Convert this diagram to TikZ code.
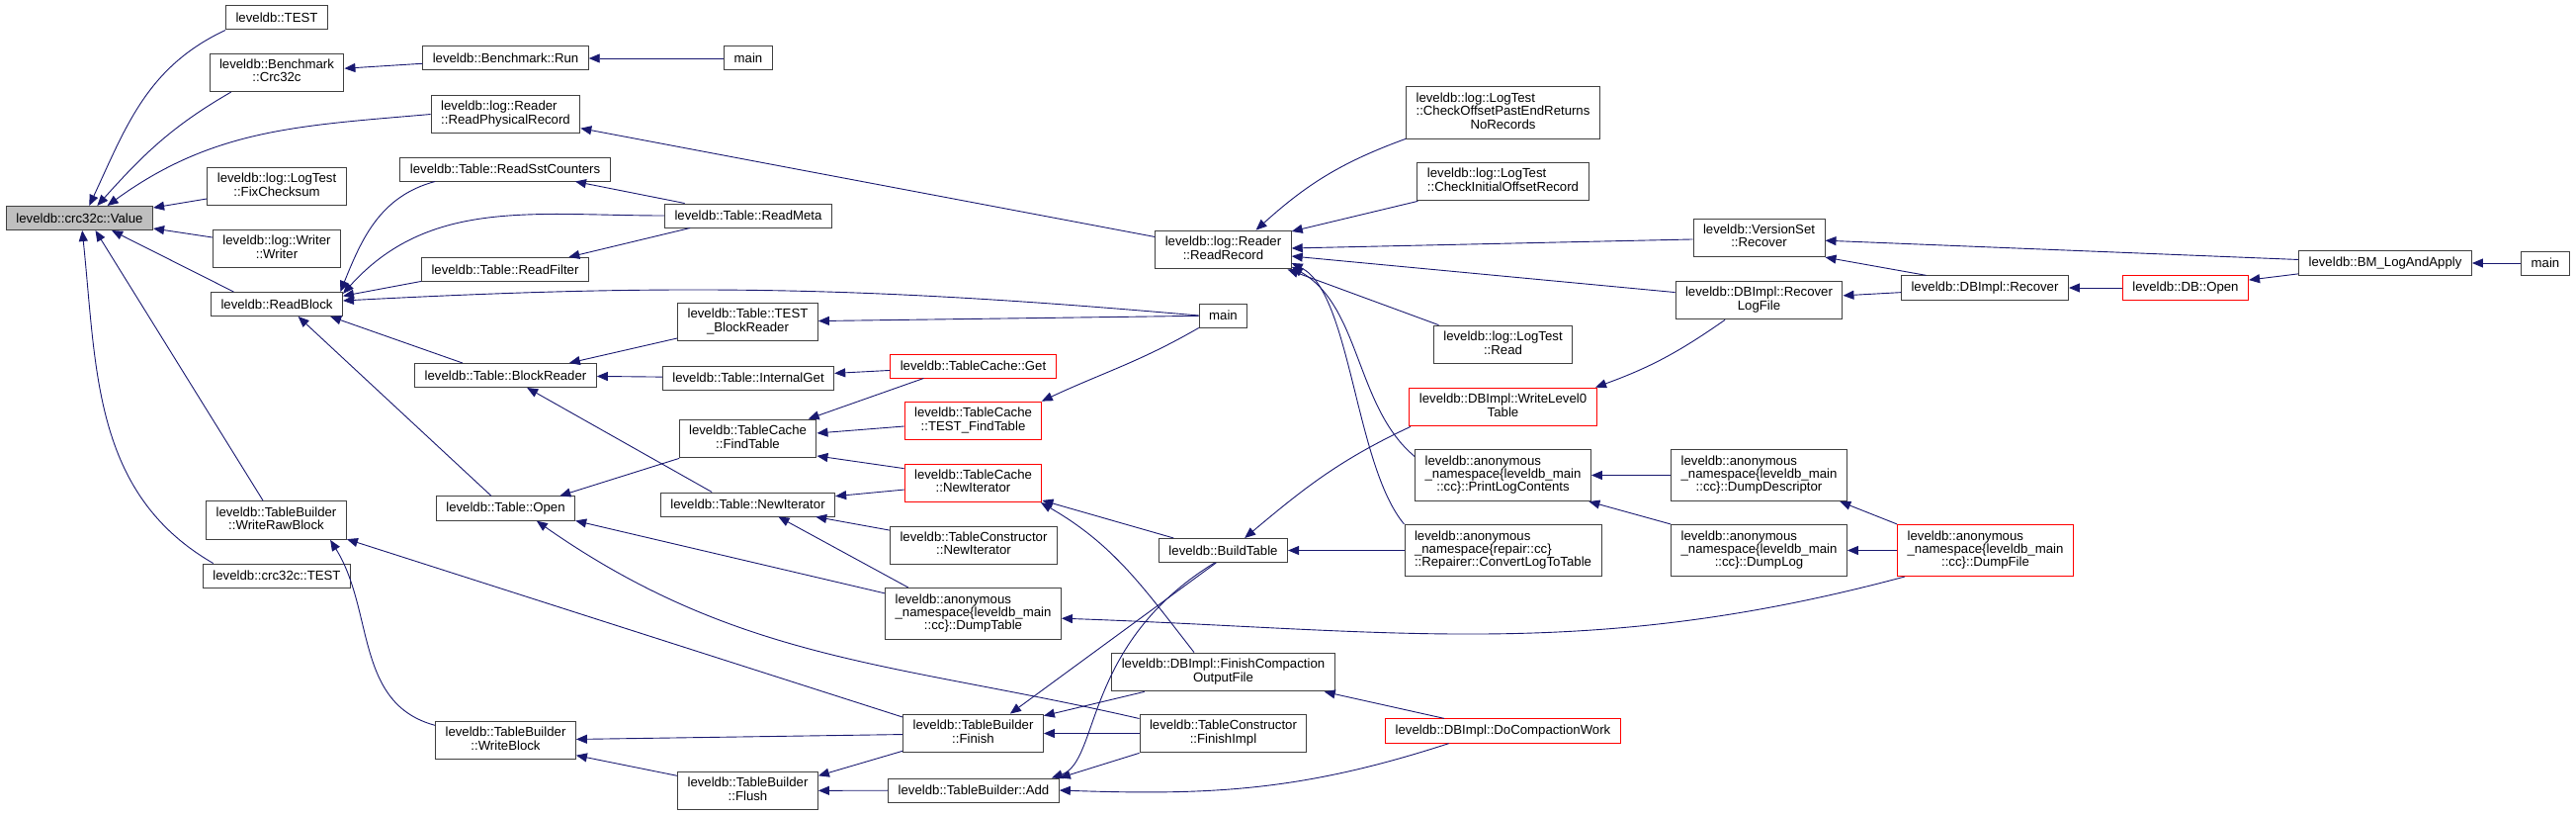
\documentclass[tikz,border=0pt]{standalone}
\usepackage{fontspec}
\setmainfont{Liberation Sans}
\usetikzlibrary{arrows.meta}
\definecolor{edgeblue}{RGB}{25,25,112}
\definecolor{boxline}{RGB}{64,64,64}
\definecolor{boxred}{RGB}{255,0,0}
\definecolor{curfill}{RGB}{191,191,191}
\newcommand{\twoln}[2]{\begin{tabular}{@{}l@{}}#1\\\multicolumn{1}{@{}c@{}}{#2}\end{tabular}}
\newcommand{\threeln}[3]{\begin{tabular}{@{}l@{}}#1\\#2\\\multicolumn{1}{@{}c@{}}{#3}\end{tabular}}

\begin{document}
\begin{tikzpicture}[x=1pt, y=-1pt,
  fn/.style={rectangle, draw=#1, fill=white, line width=1pt,
             font=\fontsize{13.2pt}{12.7pt}\selectfont,
             inner xsep=10pt, inner ysep=6pt, minimum height=24pt},
  fn/.default=boxline,
  call/.style={draw=edgeblue, line width=0.9pt, {Triangle[length=11pt,width=9pt]}-},
]
\useasboundingbox (0,0) rectangle (2606,824);

\node[fn, fill=curfill] (val) at (80.5,220.5) {leveldb::crc32c::Value};
\node[fn] (ctest)   at (280,18)    {leveldb::TEST};
\node[fn] (bcrc)    at (280,73.5)  {\twoln{leveldb::Benchmark}{::Crc32c}};
\node[fn] (fixck)   at (280,188.5) {\twoln{leveldb::log::LogTest}{::FixChecksum}};
\node[fn] (wrt)     at (280,251.5) {\twoln{leveldb::log::Writer}{::Writer}};
\node[fn] (rblk)    at (280,307.5) {leveldb::ReadBlock};
\node[fn] (wraw)    at (279.5,526) {\twoln{leveldb::TableBuilder}{::WriteRawBlock}};
\node[fn] (crctest) at (280,582)   {leveldb::crc32c::TEST};

\node[fn] (brun)   at (511.5,59)  {leveldb::Benchmark::Run};
\node[fn] (mainA)  at (757,59)    {main};
\node[fn] (rphys)  at (511.5,115.5) {\twoln{leveldb::log::Reader}{::ReadPhysicalRecord}};
\node[fn] (rsst)   at (511,171)   {leveldb::Table::ReadSstCounters};
\node[fn] (rmeta)  at (757,218)   {leveldb::Table::ReadMeta};
\node[fn] (rfilt)  at (511,272.5) {leveldb::Table::ReadFilter};
\node[fn] (tblk)   at (756.5,325.5) {\twoln{leveldb::Table::TEST}{\_BlockReader}};
\node[fn] (blkrd)  at (511.5,379.5) {leveldb::Table::BlockReader};
\node[fn] (iget)   at (757,382)   {leveldb::Table::InternalGet};
\node[fn] (ftab)   at (756.5,443.5) {\twoln{leveldb::TableCache}{::FindTable}};
\node[fn] (topen)  at (511.5,514) {leveldb::Table::Open};
\node[fn] (titer)  at (756.5,510) {leveldb::Table::NewIterator};
\node[fn] (wblk)   at (511.5,748.5) {\twoln{leveldb::TableBuilder}{::WriteBlock}};
\node[fn] (flush)  at (756.5,799.5) {\twoln{leveldb::TableBuilder}{::Flush}};

\node[fn=boxred] (tcget)   at (984.5,370)   {leveldb::TableCache::Get};
\node[fn=boxred] (tcftest) at (984.5,425.5) {\twoln{leveldb::TableCache}{::TEST\_FindTable}};
\node[fn=boxred] (tciter)  at (984.5,488.5) {\twoln{leveldb::TableCache}{::NewIterator}};
\node[fn] (tcniter) at (985,551.5) {\twoln{leveldb::TableConstructor}{::NewIterator}};
\node[fn] (dtab)    at (984.5,620.5) {\threeln{leveldb::anonymous}{\_namespace\{leveldb\_main}{::cc\}::DumpTable}};
\node[fn] (finish)  at (984.5,741.5) {\twoln{leveldb::TableBuilder}{::Finish}};
\node[fn] (add)     at (985,799)     {leveldb::TableBuilder::Add};

\node[fn] (rrec)   at (1237.5,252.5) {\twoln{leveldb::log::Reader}{::ReadRecord}};
\node[fn] (mainB)  at (1237.5,319)   {main};
\node[fn] (build)  at (1237.5,556.5) {leveldb::BuildTable};
\node[fn] (fcout)  at (1237.5,679.5) {\twoln{leveldb::DBImpl::FinishCompaction}{OutputFile}};
\node[fn] (fimpl)  at (1237.5,741.5) {\twoln{leveldb::TableConstructor}{::FinishImpl}};

\node[fn] (chkpast) at (1520.5,114)   {\threeln{leveldb::log::LogTest}{::CheckOffsetPastEndReturns}{NoRecords}};
\node[fn] (chkinit) at (1520.5,183.5) {\twoln{leveldb::log::LogTest}{::CheckInitialOffsetRecord}};
\node[fn] (lread)   at (1520.5,348.5) {\twoln{leveldb::log::LogTest}{::Read}};
\node[fn=boxred] (wl0) at (1520.5,411.5) {\twoln{leveldb::DBImpl::WriteLevel0}{Table}};
\node[fn] (plog)    at (1520.5,480.5) {\threeln{leveldb::anonymous}{\_namespace\{leveldb\_main}{::cc\}::PrintLogContents}};
\node[fn] (cvt)     at (1520.5,556.5) {\threeln{leveldb::anonymous}{\_namespace\{repair::cc\}}{::Repairer::ConvertLogToTable}};
\node[fn=boxred] (docomp) at (1520.5,739) {leveldb::DBImpl::DoCompactionWork};

\node[fn] (vsrec) at (1779.5,240.5) {\twoln{leveldb::VersionSet}{::Recover}};
\node[fn] (rlog)  at (1779.5,303.5) {\twoln{leveldb::DBImpl::Recover}{LogFile}};
\node[fn] (ddesc) at (1779.5,480.5) {\threeln{leveldb::anonymous}{\_namespace\{leveldb\_main}{::cc\}::DumpDescriptor}};
\node[fn] (dlog)  at (1779.5,556.5) {\threeln{leveldb::anonymous}{\_namespace\{leveldb\_main}{::cc\}::DumpLog}};
\node[fn] (dbrec) at (2008,291) {leveldb::DBImpl::Recover};
\node[fn=boxred] (dfile) at (2008.5,556.5) {\threeln{leveldb::anonymous}{\_namespace\{leveldb\_main}{::cc\}::DumpFile}};
\node[fn=boxred] (dbopen) at (2211,291) {leveldb::DB::Open};
\node[fn] (bmla)  at (2413,266) {leveldb::BM\_LogAndApply};
\node[fn] (mainC) at (2575,266) {main};

% callers of Value
\draw[call] (val.52) to[out=65,in=205] (ctest.south west);
\draw[call] (val.35) to[out=48,in=210] (bcrc.-157);
\draw[call] (val.24) to[out=36,in=185] (rphys.west);
\draw[call] (val.8) -- (fixck.-170);
\draw[call] (val.-8) -- (wrt.170);
\draw[call] (val.-21) -- (rblk.164);
\draw[call] (val.-38) -- (wraw.124);
\draw[call] (val.-78) to[out=-84,in=150] (crctest.169);

\draw[call] (bcrc) -- (brun);
\draw[call] (brun) -- (mainA);
\draw[call] (rphys) -- (rrec);
\draw[call] (rblk.11) to[out=68,in=195] (rsst.-170);
\draw[call] (rblk.9) to[out=48,in=180] (rmeta.west);
\draw[call] (rblk.7) -- (rfilt.-172);
\draw[call] (rblk.3) to[out=3,in=175] (mainB.west);
\draw[call] (rblk.-13) -- (blkrd.164);
\draw[call] (rblk.-30) -- (topen.139);
\draw[call] (wraw.-15) -- (finish.167);
\draw[call] (wraw.-20) to[out=-58,in=165] (wblk.168);

\draw[call] (rsst.-10) -- (rmeta.169);
\draw[call] (rfilt.11) -- (rmeta.-168);
\draw[call] (blkrd.11) -- (tblk.-167);
\draw[call] (blkrd) -- (iget);
\draw[call] (blkrd.-30) -- (titer.161);
\draw[call] (topen.13) -- (ftab.-164);
\draw[call] (topen.-10) -- (dtab.167);
\draw[call] (topen.-22) to[out=-35,in=167] (fimpl.170);
\draw[call] (wblk) -- (finish);
\draw[call] (wblk.-12) -- (flush.168);

\draw[call] (tblk) -- (mainB);
\draw[call] (iget) -- (tcget);
\draw[call] (ftab.18) -- (tcget.-166);
\draw[call] (ftab) -- (tcftest);
\draw[call] (ftab.-14) -- (tciter.168);
\draw[call] (titer) -- (tciter);
\draw[call] (titer) -- (tcniter);
\draw[call] (titer.-22) -- (dtab.158);
\draw[call] (flush.12) -- (finish.-166);
\draw[call] (flush) -- (add);

\draw[call] (tcftest.16) to[out=25,in=210] (mainB.south west);
\draw[call] (tciter.-14) -- (build.166);
\draw[call] (tciter.-16) to[out=-30,in=128] (fcout.146);
\draw[call] (dtab.-3) to[out=-2,in=195] (dfile.-162);
\draw[call] (finish.28) -- (build.-120);
\draw[call] (finish.14) -- (fcout.-166);
\draw[call] (finish) -- (fimpl);
\draw[call] (add.9) .. controls +(49,-17) and +(-134,82) .. (build.-125);
\draw[call] (add.north east) -- (fimpl.south west);
\draw[call] (add.east) to[out=-2,in=198] (docomp.-167);

% callers of ReadRecord and beyond
\draw[call] (rrec.31) to[out=42,in=200] (chkpast.-165);
\draw[call] (rrec.15) -- (chkinit.-167);
\draw[call] (rrec) -- (vsrec);
\draw[call] (rrec) -- (rlog);
\draw[call] (rrec.-17) -- (lread.163);
\draw[call] (rrec.-14) .. controls +(70,40) and +(-60,-50) .. (plog.168);
\draw[call] (rrec.-11) .. controls +(60,30) and +(-50,-60) .. (cvt.north west);
\draw[call] (build.30) to[out=40,in=205] (wl0.-168);
\draw[call] (build) -- (cvt);
\draw[call] (fcout.-11) -- (docomp.168);
\draw[call] (wl0.12) to[out=20,in=-145] (rlog.-150);
\draw[call] (plog) -- (ddesc);
\draw[call] (plog.-17) -- (dlog.north west);
\draw[call] (ddesc.-18) -- (dfile.north west);
\draw[call] (dlog) -- (dfile);
\draw[call] (vsrec.south east) -- (dbrec.168);
\draw[call] (vsrec) -- (bmla);
\draw[call] (rlog) -- (dbrec);
\draw[call] (dbrec) -- (dbopen);
\draw[call] (dbopen) -- (bmla);
\draw[call] (bmla) -- (mainC);
\end{tikzpicture}
\end{document}
